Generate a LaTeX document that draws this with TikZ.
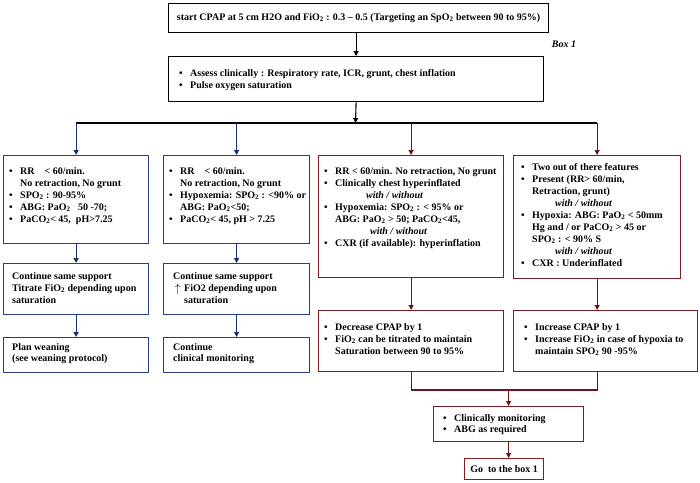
\documentclass[tikz,border=0pt]{standalone}
\usepackage{fontspec}
\setmainfont{Liberation Serif}
\usetikzlibrary{arrows.meta}
\definecolor{bbox}{RGB}{40,62,130}
\definecolor{barr}{RGB}{25,45,115}
\definecolor{rbox}{RGB}{125,30,35}
\definecolor{rarr}{RGB}{110,20,25}
\newcommand\tw{\textsubscript{2}}
\newcommand\bul{\makebox[11pt][l]{•}}
\newcommand\ind{\hspace*{11pt}}
\newcommand\st{\rule{0pt}{8pt}}
\newcommand\ww[1]{\hspace*{#1pt}\textit{with / without}}
\newcommand\mkbox[6]{\node[bx,draw=#6,minimum width={(#4)-(#2)},minimum height={(#5)-(#3)}] (#1) at (#2,#3) {};}
\tikzset{
  bx/.style={line width=1.2pt, inner sep=0pt, anchor=north west, fill=white},
  txt/.style={anchor=north west, inner sep=0pt, align=left},
  conn/.style={line width=1.1pt},
  arr/.style={conn, -{Triangle[length=5pt,width=5pt]}}
}
\begin{document}
\begin{tikzpicture}[x=1pt,y=-1pt,font=\bfseries\fontsize{10}{12}\selectfont]
\useasboundingbox (0,0) rectangle (700,482);
\fill[white] (0,0) rectangle (700,482);
% top
\mkbox{T}{168}{3}{548}{32}{black}
\node[inner sep=0pt] (Tt) at (T.center) {start CPAP at 5 cm H2O and FiO\tw\ : 0.3 -- 0.5 (Targeting an SpO\tw\ between 90 to 95\%)};
\mkbox{S}{168}{56}{543}{101}{black}
\node[txt] (St) at (179,68) {\st\bul Assess clinically : Respiratory rate, ICR, grunt, chest inflation\\\bul Pulse oxygen saturation};
\node[font=\bfseries\itshape\fontsize{10}{12}\selectfont, inner sep=0pt] (box1) at (564,44) {Box 1};
% level 3
\mkbox{A}{3}{155}{148}{243}{bbox}
\mkbox{B}{163}{155}{309}{243}{bbox}
\mkbox{C}{318}{155}{503}{277}{rbox}
\mkbox{D}{513}{155}{680}{278}{rbox}
\node[txt] (At) at (9,166) {\st\bul RR\ \ \ \ < 60/min.\\\ind No retraction, No grunt\\\bul SPO\tw\ : 90-95\%\\\bul ABG: PaO\tw\ \ \ 50 -70;\\\bul PaCO\tw< 45,\ \ pH>7.25};
\node[txt] (Bt) at (169,166) {\st\bul RR\ \ \ \ < 60/min.\\\ind No retraction, No grunt\\\bul Hypoxemia: SPO\tw\ : <90\% or\\\ind ABG: PaO\tw<50;\\\bul PaCO\tw< 45, pH > 7.25};
\node[txt] (Ct) at (324,166) {\st\bul RR < 60/min. No retraction, No grunt\\\bul Clinically chest hyperinflated\\\ww{42}\\\bul Hypoxemia: SPO\tw\ : < 95\% or\\\ind ABG: PaO\tw\ > 50; PaCO\tw<45,\\\ww{46}\\\bul CXR (if available): hyperinflation};
\node[txt] (Dt) at (521,162) {\st\bul Two out of there features\\\bul Present (RR> 60/min,\\\ind Retraction, grunt)\\\ww{34}\\\bul Hypoxia: ABG: PaO\tw\ < 50mm\\\ind Hg and / or PaCO\tw\ > 45 or\\\ind SPO\tw\ : < 90\% S\\\ww{34}\\\bul CXR : Underinflated};
% level 4 left
\mkbox{A2}{3}{263}{148}{314}{bbox}
\mkbox{B2}{163}{263}{309}{314}{bbox}
\mkbox{A3}{3}{337}{148}{372}{bbox}
\mkbox{B3}{163}{337}{309}{372}{bbox}
\node[txt] (A2t) at (12,271) {\st Continue same support\\Titrate FiO\tw\ depending upon\\saturation};
\node[txt] (B2t) at (173,271) {\st Continue same support\\\makebox[11pt][l]{\,\raisebox{-1pt}{\large$\uparrow$}}FiO2 depending upon\\\ind saturation};
\node[txt] (A3t) at (12,342) {\st Plan weaning\\[-1pt](see weaning protocol)};
\node[txt] (B3t) at (173,342) {\st Continue\\[-1pt]clinical monitoring};
% level 4 right
\mkbox{C2}{318}{310}{503}{371}{rbox}
\mkbox{D2}{513}{310}{697}{371}{rbox}
\node[txt] (C2t) at (324,322) {\st\bul Decrease CPAP by 1\\\bul FiO\tw\ can be titrated to maintain\\\ind Saturation between 90 to 95\%};
\node[txt] (D2t) at (524,322) {\st\bul Increase CPAP by 1\\\bul Increase FiO\tw\ in case of hypoxia to\\\ind maintain SPO\tw\ 90 -95\%};
\mkbox{C3}{433}{406}{583}{441}{rbox}
\node[txt] (C3t) at (443,413) {\st\bul Clinically monitoring\\[-1pt]\bul ABG as required};
\mkbox{C4}{464}{458}{543}{479}{rbox}
\node[inner sep=0pt] (C4t) at (C4.center) {Go\ \ to the box 1};
% connectors
\coordinate (j) at (355.5,123);
\coordinate (k) at (505,390);
\draw[arr] (T.south -| S.north) -- (S.north);
\draw[arr] (S.south) -- (j);
\draw[conn] (A.north |- j) -- (D.north |- j);
\draw[arr,barr] (A.north |- j) -- (A.north);
\draw[arr,barr] (B.north |- j) -- (B.north);
\draw[arr,rarr] (C.north |- j) -- (C.north);
\draw[arr,rarr] (D.north |- j) -- (D.north);
\draw[arr,barr] (A.south) -- (A2.north);
\draw[arr,barr] (B.south) -- (B2.north);
\draw[arr,barr] (A2.south) -- (A3.north);
\draw[arr,barr] (B2.south) -- (B3.north);
\draw[arr,rarr] (C.south) -- (C2.north);
\draw[arr,rarr] (D.south) -- (D.south |- D2.north);
\draw[conn,rarr] (C2.south) -- (C2.south |- k) -- (D.south |- k) -- (D.south |- D2.south);
\draw[arr,rarr] (C3.north |- k) -- (C3.north);
\draw[arr,rarr] (C3.south) -- (C3.south |- C4.north);
\end{tikzpicture}
\end{document}
